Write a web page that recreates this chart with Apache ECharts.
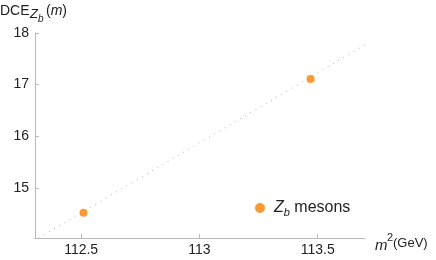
<!DOCTYPE html>
<html><head><meta charset="utf-8">
<script src="https://cdn.jsdelivr.net/npm/echarts@6/dist/echarts.min.js"></script>
<style>html,body{margin:0;padding:0;background:#fff}#c{width:436px;height:260px}</style>
</head><body><div id="c"></div>
<script>
const pointsX = [112.51, 113.47];
const pointsY = [14.52, 17.11];
const fitX = [112.32, 113.70];
const fitY = [14.03, 17.77];
const xTicks = [112.5, 113, 113.5];
const yTicks = [15, 16, 17, 18];
const xLabels = ['112.5', '113', '113.5'];
const yLabels = ['15', '16', '17', '18'];
const seriesName = 'Zb mesons';

const F = '"Liberation Sans", Arial, sans-serif';
const axisCol = '#b8b8b8';
const orange = '#fb8000';

const chart = echarts.init(document.getElementById('c'), null, {renderer: 'canvas'});
chart.setOption({
  animation: false,
  grid: {left: 35, right: 71, top: 33, bottom: 22, containLabel: false},
  xAxis: {
    type: 'value', min: 112.305, max: 113.70,
    axisLine: {show: true, onZero: false, lineStyle: {color: axisCol, width: 1}},
    axisTick: {show: true, inside: true, length: 4, customValues: xTicks, lineStyle: {color: axisCol}},
    axisLabel: {customValues: xTicks, formatter: v => xLabels[xTicks.indexOf(v)] ?? '', color: '#222', fontFamily: F, fontSize: 14, margin: 5},
    splitLine: {show: false}
  },
  yAxis: {
    type: 'value', min: 14.03, max: 18,
    axisLine: {show: true, onZero: false, lineStyle: {color: axisCol, width: 1}},
    axisTick: {show: true, inside: true, length: 4, customValues: yTicks, lineStyle: {color: axisCol}},
    axisLabel: {customValues: yTicks, formatter: v => yLabels[yTicks.indexOf(v)] ?? '', color: '#222', fontFamily: F, fontSize: 14, margin: 6},
    splitLine: {show: false}
  },
  legend: {
    show: true, left: 250, top: 195, icon: 'circle', itemWidth: 10, itemHeight: 10, itemGap: 8, itemStyle: {color: orange},
    data: [seriesName],
    formatter: () => '{z|Z}{b|b}{t| mesons}',
    textStyle: {
      fontFamily: F, color: '#222', padding: [0, 0, 0, 4],
      rich: {
        z: {fontFamily: F, fontStyle: 'italic', fontSize: 16, color: '#222'},
        b: {fontFamily: F, fontStyle: 'italic', fontSize: 11, color: '#222', padding: [9, 0, 0, 0]},
        t: {fontFamily: F, fontSize: 16, color: '#222'}
      }
    }
  },
  series: [
    {
      type: 'line', name: 'fit', data: fitX.map((x, i) => [x, fitY[i]]),
      showSymbol: false, symbol: 'none', silent: true,
      lineStyle: {color: '#b0b0b0', width: 1, type: [1, 5]}, z: 1
    },
    {
      type: 'scatter', name: seriesName, data: pointsX.map((x, i) => [x, pointsY[i]]),
      symbol: 'circle', symbolSize: 8, itemStyle: {color: orange}, z: 3
    }
  ],
  graphic: [
    {type: 'text', left: 0, top: 4, style: {text: 'DCE', font: '14px ' + F, fill: '#222'}},
    {type: 'text', left: 30, top: 8, style: {text: 'Z', font: 'italic 13px ' + F, fill: '#222'}},
    {type: 'text', left: 38, top: 14, style: {text: 'b', font: 'italic 10px ' + F, fill: '#222'}},
    {type: 'text', left: 46, top: 4, style: {text: '({i|m})', font: '14px ' + F, fill: '#222',
      rich: {i: {fontFamily: F, fontStyle: 'italic', fontSize: 14, fill: '#222'}}}},
    {type: 'text', left: 375, top: 238, style: {text: 'm', font: 'italic 15px ' + F, fill: '#222'}},
    {type: 'text', left: 387, top: 232, style: {text: '2', font: '11px ' + F, fill: '#222'}},
    {type: 'text', left: 393, top: 237, style: {text: '(GeV)', font: '13px ' + F, fill: '#222'}}
  ]
});
</script></body></html>
